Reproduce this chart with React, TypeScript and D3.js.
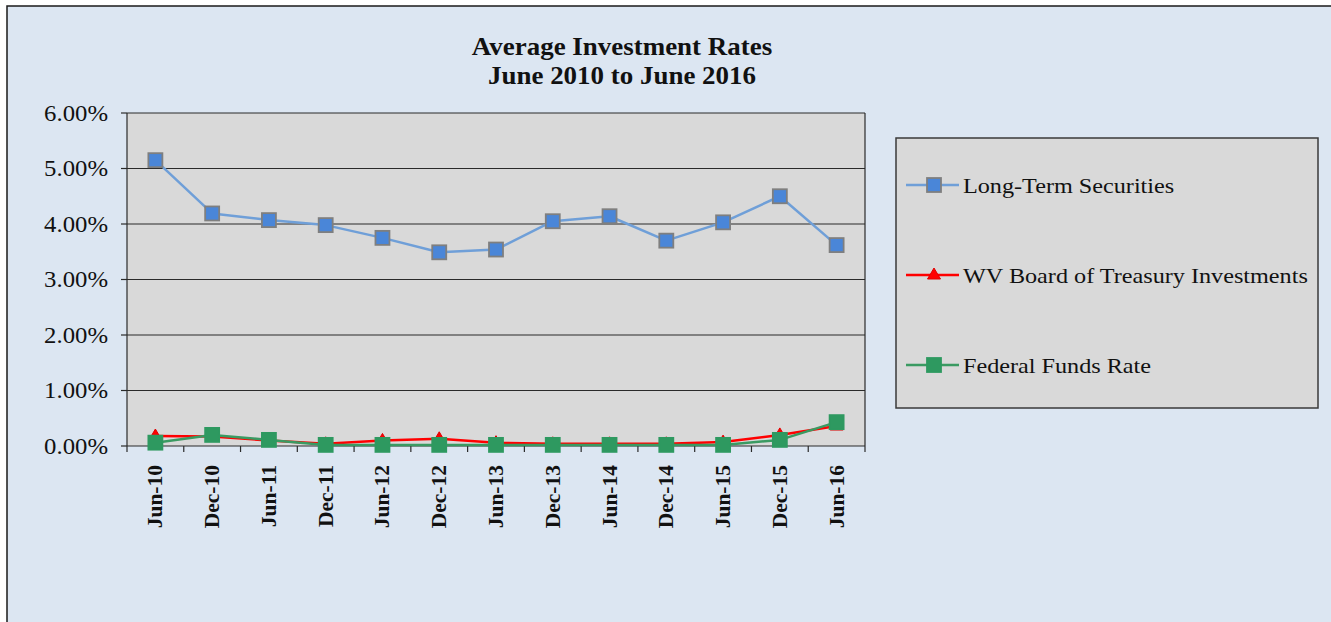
import * as React from 'react';
import { scaleBand, scaleLinear, line } from 'd3';

const categories = ['Jun-10', 'Dec-10', 'Jun-11', 'Dec-11', 'Jun-12', 'Dec-12', 'Jun-13', 'Dec-13', 'Jun-14', 'Dec-14', 'Jun-15', 'Dec-15', 'Jun-16'];
const longTerm = [5.15, 4.19, 4.07, 3.98, 3.75, 3.49, 3.54, 4.05, 4.14, 3.70, 4.03, 4.50, 3.62];
const wvBti = [0.18, 0.17, 0.10, 0.04, 0.10, 0.13, 0.06, 0.04, 0.04, 0.04, 0.07, 0.20, 0.36];
const fedFunds = [0.06, 0.20, 0.11, 0.02, 0.02, 0.02, 0.02, 0.02, 0.02, 0.02, 0.02, 0.11, 0.43];
const yTicks = [0, 1, 2, 3, 4, 5, 6];
const titleLines = ['Average Investment Rates', 'June 2010 to June 2016'];

const seriesNames = ['Long-Term Securities', 'WV Board of Treasury Investments', 'Federal Funds Rate'];

const W = 1331;
const H = 622;
const plot = { left: 127, top: 113, right: 865, bottom: 446 };
const FONT = '"Liberation Serif", "Times New Roman", serif';
// the original picture is slightly stretched sideways
const SX = 1.1;

export default function App() {
    const x = scaleBand<string>().domain(categories).range([plot.left, plot.right]).padding(0);
    const y = scaleLinear().domain([0, 6]).range([plot.bottom, plot.top]);
    const cx = (c: string) => (x(c) as number) + x.bandwidth() / 2;

    const mk = (vals: number[]) =>
        line<number>()
            .x((_, i) => cx(categories[i]))
            .y((d) => y(d))(vals) as string;

    const series = [
        { name: seriesNames[0], values: longTerm, stroke: '#6f9fd8', marker: 'square', fill: '#4a86d8', mstroke: '#7f7f7f' },
        { name: seriesNames[1], values: wvBti, stroke: '#ff0000', marker: 'triangle', fill: '#ff0000', mstroke: '#e00000' },
        { name: seriesNames[2], values: fedFunds, stroke: '#3a9a62', marker: 'square', fill: '#2e9960', mstroke: '#2e9960' },
    ];

    const drawMarker = (kind: string, px: number, py: number, fill: string, stroke: string, key: string | number) => {
        if (kind === 'square') {
            return <rect key={key} x={px - 7} y={py - 7} width={14} height={14} fill={fill} stroke={stroke} strokeWidth={1.8} />;
        }
        return <path key={key} d={`M${px},${py - 7}L${px + 6.5},${py + 4}L${px - 6.5},${py + 4}Z`} fill={fill} stroke={stroke} strokeWidth={1} />;
    };

    const boundaries = categories.map((c) => x(c) as number).concat([plot.right]);
    const legendY = [185, 275, 365];

    return (
        <svg width={W} height={H} style={{ position: 'absolute', left: 0, top: 0, fontFamily: FONT }}>
            <rect x={0} y={0} width={W} height={H} fill="#ffffff" />
            <rect x={7} y={6} width={W + 10} height={H + 10} fill="#dce6f2" stroke="#1a1a1a" strokeWidth={1.5} />

            {titleLines.map((t, i) => (
                <text key={t} transform={`translate(622,${55 + i * 29}) scale(${SX},1)`} textAnchor="middle" fontSize={24.5} fontWeight="bold" fill="#111">{t}</text>
            ))}

            <rect x={plot.left} y={plot.top} width={plot.right - plot.left} height={plot.bottom - plot.top} fill="#d9d9d9" />
            {yTicks.map((t) => (
                <g key={t}>
                    <line x1={plot.left} x2={plot.right} y1={y(t)} y2={y(t)} stroke="#2a2a2a" strokeWidth={1.2} />
                    <line x1={plot.left - 6} x2={plot.left} y1={y(t)} y2={y(t)} stroke="#2a2a2a" strokeWidth={1.2} />
                    <text transform={`translate(108,${y(t)}) scale(${SX},1)`} dy="0.35em" textAnchor="end" fontSize={22.5} fill="#111">{t.toFixed(2)}%</text>
                </g>
            ))}
            <line x1={plot.left} x2={plot.left} y1={plot.top} y2={plot.bottom} stroke="#2a2a2a" strokeWidth={1.2} />
            <line x1={plot.right} x2={plot.right} y1={plot.top} y2={plot.bottom} stroke="#2a2a2a" strokeWidth={1.2} />
            {boundaries.map((b, i) => (
                <line key={i} x1={b} x2={b} y1={plot.bottom} y2={plot.bottom + 6} stroke="#2a2a2a" strokeWidth={1.2} />
            ))}
            {categories.map((c) => (
                <text key={c} transform={`translate(${cx(c) + 7},${465}) rotate(-90)`} textAnchor="end" fontSize={21.5} fontWeight="bold" fill="#111">{c}</text>
            ))}

            {series.map((s) => (
                <path key={s.name} d={mk(s.values)} fill="none" stroke={s.stroke} strokeWidth={2.5} strokeLinejoin="round" />
            ))}
            {series.map((s) => (
                <g key={s.name + '-m'}>
                    {s.values.map((v, i) => drawMarker(s.marker, cx(categories[i]), y(v), s.fill, s.mstroke, i))}
                </g>
            ))}

            <rect x={896} y={138} width={422} height={270} fill="#d9d9d9" stroke="#3a3a3a" strokeWidth={1.5} />
            {series.map((s, i) => (
                <g key={s.name + '-l'}>
                    <line x1={906} x2={959} y1={legendY[i]} y2={legendY[i]} stroke={s.stroke} strokeWidth={2.5} />
                    {drawMarker(s.marker, 934, legendY[i], s.fill, s.mstroke, 0)}
                    <text transform={`translate(963,${legendY[i]}) scale(${SX},1)`} dy="0.35em" fontSize={22} fill="#111">{s.name}</text>
                </g>
            ))}
        </svg>
    );
}
